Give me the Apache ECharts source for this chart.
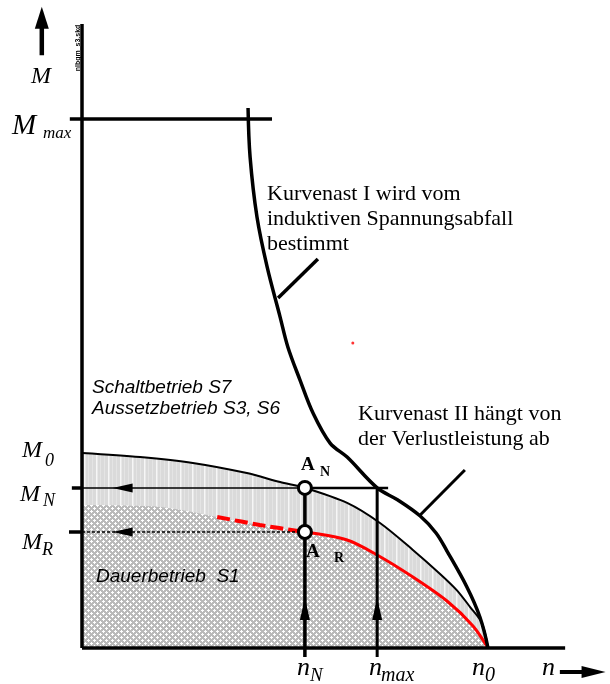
<!DOCTYPE html>
<html>
<head>
<meta charset="utf-8">
<script src="https://cdn.jsdelivr.net/npm/echarts@6/dist/echarts.min.js"></script>
<style>
  html, body { margin: 0; padding: 0; background: #fff; }
  #chart { width: 610px; height: 684px; }
</style>
</head>
<body>
<div id="chart"></div>
<script>
  // Einheiten: n / n0 und M / M0
  const nN = 0.549
  const nMax = 0.727
  const n0 = 1.0
  const M0 = 1.0
  const MN = 0.821
  const MR = 0.595
  const Mmax = 2.713

  // Grenzkurve Schalt-/Aussetzbetrieb (obere Fläche)
  const upperN = [0, 0.143, 0.273, 0.406, 0.488, 0.549, 0.653, 0.734, 0.815, 0.882, 0.923, 0.956, 0.985, 1.0]
  const upperM = [1.0, 0.979, 0.949, 0.897, 0.851, 0.821, 0.744, 0.641, 0.503, 0.38, 0.297, 0.21, 0.128, 0]

  // Grenzkurve Dauerbetrieb S1 (schraffierte Fläche)
  const s1N = [0, 0.192, 0.333, 0.438, 0.549, 0.653, 0.727, 0.815, 0.899, 0.963, 1.0]
  const s1M = [0.733, 0.723, 0.672, 0.631, 0.595, 0.554, 0.477, 0.364, 0.241, 0.113, 0]

  // Kurvenast I + II
  const curveN = [0.409, 0.414, 0.431, 0.456, 0.488, 0.507, 0.537, 0.569, 0.611, 0.653, 0.727, 0.778, 0.833, 0.872, 0.899, 0.948, 0.980, 1.0]
  const curveM = [2.769, 2.518, 2.210, 1.954, 1.697, 1.544, 1.374, 1.205, 1.051, 0.979, 0.821, 0.759, 0.677, 0.590, 0.497, 0.313, 0.159, 0]

  const pairs = (xs, ys) => xs.map((x, i) => [x, ys[i]])

  // Muster: vertikale Streifen
  function stripePattern() {
    const c = document.createElement('canvas')
    c.width = 12; c.height = 8
    const g = c.getContext('2d')
    g.fillStyle = '#dadada'; g.fillRect(0, 0, 12, 8)
    g.fillStyle = '#f6f6f6'; g.fillRect(0, 0, 1.5, 8)
    g.fillStyle = '#e4e4e4'; g.fillRect(4, 0, 1, 8); g.fillRect(8, 0, 1, 8)
    return c
  }
  // Muster: Kreuzschraffur
  function hatchPattern() {
    const c = document.createElement('canvas')
    c.width = 6; c.height = 6
    const g = c.getContext('2d')
    g.fillStyle = '#bababa'; g.fillRect(0, 0, 6, 6)
    g.fillStyle = '#ffffff'
    ;[[1, 0], [0, 1], [1, 1], [2, 1], [1, 2], [4, 3], [3, 4], [4, 4], [5, 4], [4, 5]].forEach(p => g.fillRect(p[0], p[1], 1, 1))
    return c
  }

  const myChart = echarts.init(document.getElementById('chart'))

  function seg(data, width, color, type, z) {
    return {
      type: 'line', data: data, symbol: 'none', silent: true, z: z || 5,
      lineStyle: { color: color || '#000', width: width, type: type || 'solid', cap: 'butt' }
    }
  }
  function marker(data, symbol, size, rotate, z) {
    return {
      type: 'scatter', data: data, symbol: symbol, symbolSize: size, symbolRotate: rotate || 0,
      silent: true, z: z || 8, itemStyle: { color: '#000', opacity: 1 }
    }
  }

  const serif = '"Liberation Serif", "DejaVu Serif", serif'
  const sans = '"Liberation Sans", Arial, sans-serif'
  function txt(x, y, text, font, extra) {
    return Object.assign({
      type: 'text', x: x, y: y, z: 100,
      style: { text: text, font: font, fill: '#000', textAlign: 'left', textVerticalAlign: 'middle', align: 'left', verticalAlign: 'middle' }
    }, extra || {})
  }
  function block(x, y, text, font, lh) {
    return {
      type: 'text', x: x, y: y, z: 100,
      style: { text: text, font: font, fill: '#000', lineHeight: lh, textAlign: 'left', align: 'left', textVerticalAlign: 'top', verticalAlign: 'top' }
    }
  }

  myChart.setOption({
    animation: false,
    grid: { left: 0.8, top: 4.5, width: 609, height: 678.6 },
    xAxis: { type: 'value', min: -0.2, max: 1.3, show: false },
    yAxis: { type: 'value', min: -0.18, max: 3.3, show: false },
    series: [
      // Fläche S3/S6/S7
      {
        type: 'line', data: pairs(upperN, upperM), symbol: 'none', smooth: 0.3, silent: true, z: 1,
        lineStyle: { color: '#000', width: 2 },
        areaStyle: { color: { image: stripePattern(), repeat: 'repeat' }, opacity: 1 }
      },
      // Fläche S1
      {
        type: 'line', data: pairs(s1N, s1M), symbol: 'none', smooth: 0.3, silent: true, z: 2,
        lineStyle: { width: 0, opacity: 0 },
        areaStyle: { color: { image: hatchPattern(), repeat: 'repeat' }, opacity: 1 }
      },
      // rote Kennlinie
      Object.assign(seg(pairs(s1N.slice(2, 5), s1M.slice(2, 5)), 4, '#ff0000', [13, 5], 4), { smooth: 0.3 }),
      Object.assign(seg(pairs(s1N.slice(4), s1M.slice(4)), 3, '#ff0000', 'solid', 4), { smooth: 0.3 }),
      // Kurvenast I + II
      Object.assign(seg(pairs(curveN, curveM), 3.5, '#000', 'solid', 6), { smooth: 0.35 }),
      // Achsen
      seg([[0, 0], [0, 3.2]], 3.5),
      seg([[0, 0], [1.19, 0]], 3.5),
      // M_max
      seg([[-0.03, Mmax], [0.468, Mmax]], 3.5),
      // M_N, M_R
      seg([[-0.025, MN], [0, MN]], 3.5),
      seg([[0, MN], [nN, MN]], 1.5),
      seg([[nN, MN], [0.754, MN]], 2.5),
      seg([[-0.032, MR], [0, MR]], 3.5),
      seg([[0, MR], [nN, MR]], 1.5, '#000', [3, 2]),
      marker([[0.1, MN], [0.1, MR]], 'triangle', [9, 20], 90),
      // n_N, n_max
      seg([[nN, -0.046], [nN, MN]], 3.5),
      seg([[nMax, -0.046], [nMax, MN]], 3),
      marker([[nN, 0.2], [nMax, 0.2]], 'triangle', [10, 22], 0),
      // Betriebspunkte A_N, A_R
      {
        type: 'scatter', data: [[nN, MN], [nN, MR]], symbol: 'circle', symbolSize: 13, silent: true, z: 9,
        itemStyle: { color: '#fff', borderColor: '#000', borderWidth: 3, opacity: 1 }
      },
      // Hinweislinien
      seg([[0.483, 1.795], [0.581, 1.995]], 3.5),
      seg([[0.833, 0.682], [0.943, 0.913]], 3),
      // roter Punkt
      { type: 'scatter', data: [[0.667, 1.564]], symbolSize: 3, silent: true, itemStyle: { color: '#ff0000' } },
      // Pfeile M und n
      seg([[-0.099, 3.04], [-0.099, 3.19]], 4.5),
      marker([[-0.099, 3.232]], 'triangle', [14, 22], 0),
      seg([[1.177, -0.123], [1.235, -0.123]], 4),
      marker([[1.26, -0.123]], 'triangle', [12, 24], -90)
    ],
    graphic: [
      {
        type: 'text', x: 78, y: 48, rotation: Math.PI / 2, z: 100,
        style: { text: 'nlbgm_s3.skd', font: 'bold 7px ' + sans, fill: '#000', textAlign: 'center', align: 'center', textVerticalAlign: 'middle', verticalAlign: 'middle' }
      },
      txt(31, 77, 'M', 'italic 24px ' + serif),
      txt(12, 126, 'M', 'italic 29px ' + serif),
      txt(43, 134, 'max', 'italic 17px ' + serif),
      txt(22, 451, 'M', 'italic 24px ' + serif),
      txt(45, 461, '0', 'italic 18px ' + serif),
      txt(20, 495, 'M', 'italic 24px ' + serif),
      txt(43, 501, 'N', 'italic 18px ' + serif),
      txt(22, 543, 'M', 'italic 24px ' + serif),
      txt(42, 550, 'R', 'italic 18px ' + serif),
      txt(297, 668, 'n', 'italic 26px ' + serif),
      txt(310, 676, 'N', 'italic 19px ' + serif),
      txt(369, 668, 'n', 'italic 26px ' + serif),
      txt(381, 676, 'max', 'italic 20px ' + serif),
      txt(472, 668, 'n', 'italic 26px ' + serif),
      txt(485, 676, '0', 'italic 20px ' + serif),
      txt(542, 668, 'n', 'italic 26px ' + serif),
      txt(301, 465, 'A', 'bold 19px ' + serif),
      txt(320, 472, 'N', 'bold 14px ' + serif),
      txt(306, 552, 'A', 'bold 19px ' + serif),
      txt(334, 558, 'R', 'bold 14px ' + serif),
      block(267, 182, 'Kurvenast I wird vom\ninduktiven Spannungsabfall\nbestimmt', '22px ' + serif, 25),
      block(358, 402, 'Kurvenast II hängt von\nder Verlustleistung ab', '22px ' + serif, 25),
      block(92, 377, 'Schaltbetrieb S7\nAussetzbetrieb S3, S6', 'italic 19px ' + sans, 21),
      block(96, 566, 'Dauerbetrieb  S1', 'italic 19px ' + sans, 21)
    ]
  })

  window.addEventListener('resize', () => {
    myChart && myChart.resize()
  })
</script>
</body>
</html>
